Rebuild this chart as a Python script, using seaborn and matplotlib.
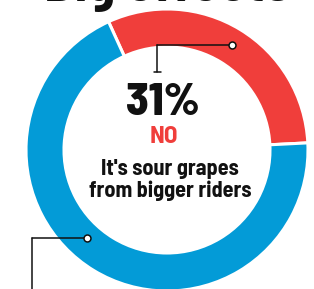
import matplotlib
matplotlib.use("Agg")
import matplotlib.pyplot as plt
import seaborn as sns

sns.set_theme(style="white")
plt.rcParams['font.family'] = ['Barlow Semi Condensed', 'DejaVu Sans']

# survey answers
answers = ['No', 'Yes']
shares = [31, 69]
colors = ['#F03E3B', '#039BD7']

headline = "Big effects"
big_label = "31%"
answer_label = "NO"
answer_text = "It's sour grapes\nfrom bigger riders"

fig = plt.figure(figsize=(3.14, 2.89), dpi=100)
ax = fig.add_axes([0, 0, 1, 1])

ax.pie(shares, colors=colors, startangle=114.5, counterclock=False,
       center=(167, 139), radius=141,
       wedgeprops=dict(width=38, edgecolor='white', linewidth=2.2))
ax.set_xlim(0, 314)
ax.set_ylim(0, 289)
ax.set_aspect('equal')
ax.axis('off')

# cut-off headline at the very top
ax.text(44, 288.3, headline, fontsize=40, fontweight='bold', color='#111111',
        ha='left', va='baseline')

# centre labels
ax.text(163, 174, big_label, fontsize=33, fontweight='heavy', color='#111111',
        ha='center', va='baseline')
ax.text(164, 146, answer_label, fontsize=18, fontweight='bold', color=colors[0],
        ha='center', va='baseline')
ax.text(170, 92, answer_text, fontsize=16, fontweight='bold', color='#111111',
        ha='center', va='baseline', linespacing=1.1)

# leader for the red slice
ax.plot([157, 232], [244, 244], color='#111111', lw=1.1)
ax.plot([157, 157], [244, 217], color='#111111', lw=1.1)
ax.plot([153.5, 160.5], [217, 217], color='#111111', lw=1.1)
ax.plot([232], [244], marker='o', ms=5, mfc='white', mec='#111111', mew=1.1)

# leader for the blue slice
ax.plot([32, 87], [51, 51], color='#111111', lw=1.1)
ax.plot([32, 32], [51, -2], color='#111111', lw=1.1)
ax.plot([87], [51], marker='o', ms=5, mfc='white', mec='#111111', mew=1.1)

fig.savefig('out.png', dpi=100)
